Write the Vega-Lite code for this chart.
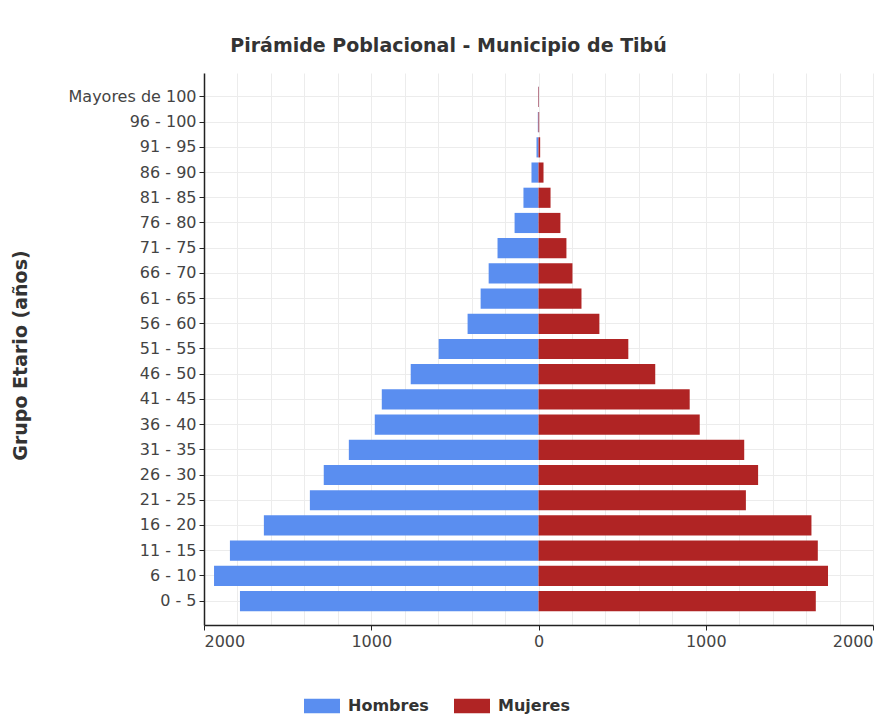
{
  "$schema": "https://vega.github.io/schema/vega-lite/v6.json",
  "autosize": "none",
  "padding": {"left": 204, "top": 73, "right": 23, "bottom": 92},
  "width": 669,
  "height": 552,
  "background": "white",
  "title": {
    "text": "Pirámide Poblacional - Municipio de Tibú",
    "font": "DejaVu Sans",
    "fontSize": 19,
    "fontWeight": "bold",
    "color": "#333333",
    "anchor": "middle",
    "offset": 17,
    "dx": -90
  },
  "data": {
    "values": [
      {"grupo": "0 - 5", "sexo": "Hombres", "valor": -1785},
      {"grupo": "6 - 10", "sexo": "Hombres", "valor": -1940},
      {"grupo": "11 - 15", "sexo": "Hombres", "valor": -1845},
      {"grupo": "16 - 20", "sexo": "Hombres", "valor": -1642},
      {"grupo": "21 - 25", "sexo": "Hombres", "valor": -1367},
      {"grupo": "26 - 30", "sexo": "Hombres", "valor": -1284},
      {"grupo": "31 - 35", "sexo": "Hombres", "valor": -1134},
      {"grupo": "36 - 40", "sexo": "Hombres", "valor": -979},
      {"grupo": "41 - 45", "sexo": "Hombres", "valor": -937},
      {"grupo": "46 - 50", "sexo": "Hombres", "valor": -764},
      {"grupo": "51 - 55", "sexo": "Hombres", "valor": -597},
      {"grupo": "56 - 60", "sexo": "Hombres", "valor": -424},
      {"grupo": "61 - 65", "sexo": "Hombres", "valor": -346},
      {"grupo": "66 - 70", "sexo": "Hombres", "valor": -298},
      {"grupo": "71 - 75", "sexo": "Hombres", "valor": -245},
      {"grupo": "76 - 80", "sexo": "Hombres", "valor": -143},
      {"grupo": "81 - 85", "sexo": "Hombres", "valor": -90},
      {"grupo": "86 - 90", "sexo": "Hombres", "valor": -42},
      {"grupo": "91 - 95", "sexo": "Hombres", "valor": -12},
      {"grupo": "96 - 100", "sexo": "Hombres", "valor": -4},
      {"grupo": "Mayores de 100", "sexo": "Hombres", "valor": -2},
      {"grupo": "0 - 5", "sexo": "Mujeres", "valor": 1658},
      {"grupo": "6 - 10", "sexo": "Mujeres", "valor": 1731},
      {"grupo": "11 - 15", "sexo": "Mujeres", "valor": 1670},
      {"grupo": "16 - 20", "sexo": "Mujeres", "valor": 1632},
      {"grupo": "21 - 25", "sexo": "Mujeres", "valor": 1240},
      {"grupo": "26 - 30", "sexo": "Mujeres", "valor": 1313},
      {"grupo": "31 - 35", "sexo": "Mujeres", "valor": 1230},
      {"grupo": "36 - 40", "sexo": "Mujeres", "valor": 964},
      {"grupo": "41 - 45", "sexo": "Mujeres", "valor": 904},
      {"grupo": "46 - 50", "sexo": "Mujeres", "valor": 698},
      {"grupo": "51 - 55", "sexo": "Mujeres", "valor": 537},
      {"grupo": "56 - 60", "sexo": "Mujeres", "valor": 364},
      {"grupo": "61 - 65", "sexo": "Mujeres", "valor": 257},
      {"grupo": "66 - 70", "sexo": "Mujeres", "valor": 203},
      {"grupo": "71 - 75", "sexo": "Mujeres", "valor": 167},
      {"grupo": "76 - 80", "sexo": "Mujeres", "valor": 131},
      {"grupo": "81 - 85", "sexo": "Mujeres", "valor": 72},
      {"grupo": "86 - 90", "sexo": "Mujeres", "valor": 30},
      {"grupo": "91 - 95", "sexo": "Mujeres", "valor": 10},
      {"grupo": "96 - 100", "sexo": "Mujeres", "valor": 4},
      {"grupo": "Mayores de 100", "sexo": "Mujeres", "valor": 3}
    ]
  },
  "mark": {"type": "bar"},
  "encoding": {
    "y": {
      "field": "grupo",
      "type": "nominal",
      "sort": ["Mayores de 100", "96 - 100", "91 - 95", "86 - 90", "81 - 85", "76 - 80", "71 - 75", "66 - 70", "61 - 65", "56 - 60", "51 - 55", "46 - 50", "41 - 45", "36 - 40", "31 - 35", "26 - 30", "21 - 25", "16 - 20", "11 - 15", "6 - 10", "0 - 5"],
      "scale": {"paddingInner": 0.2, "paddingOuter": 0.55},
      "axis": {
        "title": "Grupo Etario (años)",
        "titleFont": "DejaVu Sans",
        "titleFontSize": 19,
        "titleFontWeight": "bold",
        "titleColor": "#333333",
        "titleX": -184,
        "titleY": 282,
        "titleAlign": "center",
        "titleBaseline": "middle",
        "titleAngle": -90,
        "labelFont": "DejaVu Sans",
        "labelFontSize": 16,
        "labelColor": "#444444",
        "labelPadding": 3,
        "tickSize": 5,
        "tickColor": "#222222",
        "domainColor": "#222222",
        "domainWidth": 1.5,
        "grid": true,
        "gridColor": "#ececec",
        "bandPosition": 0.5
      }
    },
    "x": {
      "field": "valor",
      "type": "quantitative",
      "scale": {"domain": [-2000, 2000], "nice": false},
      "axis": {
        "title": null,
        "values": [-2000, -1800, -1600, -1400, -1200, -1000, -800, -600, -400, -200, 0, 200, 400, 600, 800, 1000, 1200, 1400, 1600, 1800, 2000],
        "labelExpr": "datum.value % 1000 === 0 ? format(abs(datum.value), 'd') : ''",
        "labelFont": "DejaVu Sans",
        "labelFontSize": 16,
        "labelColor": "#444444",
        "labelPadding": 3,
        "tickSize": 5,
        "tickColor": "#222222",
        "tickOpacity": {"condition": {"test": "datum.value % 1000 === 0", "value": 1}, "value": 0},
        "domainColor": "#222222",
        "domainWidth": 1.5,
        "grid": true,
        "gridColor": "#ececec"
      }
    },
    "color": {
      "field": "sexo",
      "type": "nominal",
      "scale": {"domain": ["Hombres", "Mujeres"], "range": ["#5a8ef0", "#b02424"]},
      "legend": {
        "title": null,
        "orient": "none",
        "direction": "horizontal",
        "legendX": 100,
        "legendY": 615,
        "symbolType": "M-1,-0.4H1V0.4H-1Z",
        "symbolSize": 1296,
        "symbolStrokeWidth": 0,
        "symbolOpacity": 1,
        "labelFont": "DejaVu Sans",
        "labelFontSize": 16,
        "labelFontWeight": "bold",
        "labelColor": "#333333",
        "labelOffset": 8,
        "columnPadding": 25
      }
    }
  },
  "config": {"view": {"stroke": null}}
}
